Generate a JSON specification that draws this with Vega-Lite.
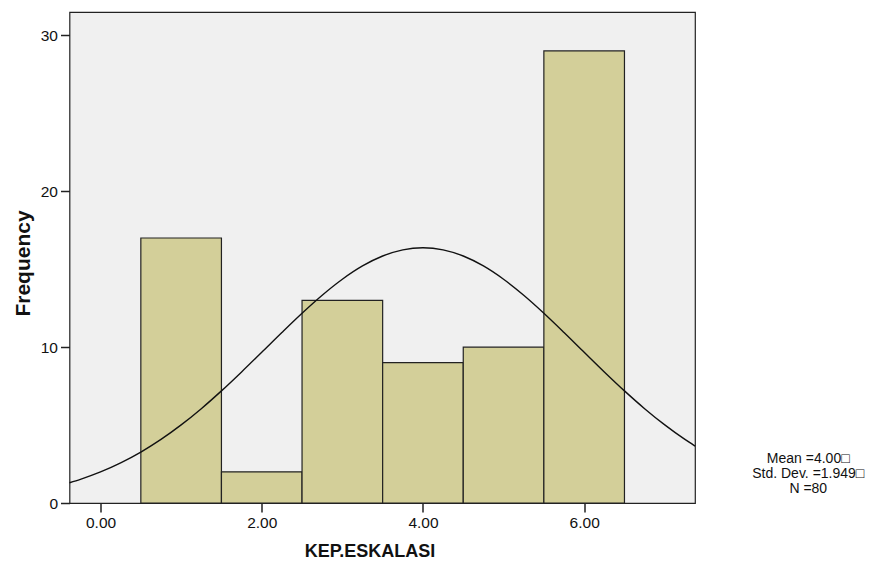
{
  "$schema": "https://vega.github.io/schema/vega-lite/v6.json",
  "width": 625.5,
  "height": 491,
  "autosize": {"type": "none"},
  "padding": {"left": 69.5, "top": 12, "right": 194, "bottom": 59},
  "background": "white",
  "config": {
    "font": "Liberation Sans",
    "view": {"fill": "#F0F0F0", "stroke": "#222222", "strokeWidth": 1.2},
    "axis": {
      "labelFont": "Liberation Sans",
      "titleFont": "Liberation Sans",
      "labelColor": "#111111",
      "titleColor": "#111111",
      "tickColor": "#222222",
      "domain": false,
      "grid": false,
      "tickWidth": 1.5
    }
  },
  "layer": [
    {
      "data": {
        "values": [
          {"bin_start": 0.5, "bin_end": 1.5, "count": 17},
          {"bin_start": 1.5, "bin_end": 2.5, "count": 2},
          {"bin_start": 2.5, "bin_end": 3.5, "count": 13},
          {"bin_start": 3.5, "bin_end": 4.5, "count": 9},
          {"bin_start": 4.5, "bin_end": 5.5, "count": 10},
          {"bin_start": 5.5, "bin_end": 6.5, "count": 29}
        ]
      },
      "mark": {"type": "rect", "fill": "#D3CF99", "stroke": "#222222", "strokeWidth": 1.2},
      "encoding": {
        "x": {
          "field": "bin_start",
          "type": "quantitative",
          "scale": {"domain": [-0.385, 7.375], "nice": false, "zero": false},
          "axis": {
            "values": [0, 2, 4, 6],
            "format": ".2f",
            "labelFontSize": 15.5,
            "tickSize": 9,
            "labelPadding": 3,
            "title": "KEP.ESKALASI",
            "titleFontSize": 18,
            "titleFontWeight": "bold",
            "titleX": 300,
            "titleY": 53,
            "titleBaseline": "alphabetic"
          }
        },
        "x2": {"field": "bin_end"},
        "y": {
          "field": "count",
          "type": "quantitative",
          "scale": {"domain": [0, 31.5], "nice": false},
          "axis": {
            "values": [0, 10, 20, 30],
            "labelFontSize": 15.5,
            "tickSize": 9,
            "labelPadding": 3,
            "title": "Frequency",
            "titleFontSize": 21,
            "titleFontWeight": "bold",
            "titleX": -40,
            "titleY": 251,
            "titleBaseline": "alphabetic"
          }
        },
        "y2": {"datum": 0}
      }
    },
    {
      "data": {
        "values": [
          {"x": -0.385, "y": 1.30},
          {"x": -0.25, "y": 1.519},
          {"x": 0.0, "y": 1.994},
          {"x": 0.25, "y": 2.573},
          {"x": 0.5, "y": 3.265},
          {"x": 0.75, "y": 4.077},
          {"x": 1.0, "y": 5.009},
          {"x": 1.25, "y": 6.051},
          {"x": 1.5, "y": 7.193},
          {"x": 1.75, "y": 8.410},
          {"x": 2.0, "y": 9.672},
          {"x": 2.25, "y": 10.942},
          {"x": 2.5, "y": 12.177},
          {"x": 2.75, "y": 13.331},
          {"x": 3.0, "y": 14.355},
          {"x": 3.25, "y": 15.207},
          {"x": 3.5, "y": 15.845},
          {"x": 3.75, "y": 16.241},
          {"x": 4.0, "y": 16.375},
          {"x": 4.25, "y": 16.241},
          {"x": 4.5, "y": 15.845},
          {"x": 4.75, "y": 15.207},
          {"x": 5.0, "y": 14.355},
          {"x": 5.25, "y": 13.331},
          {"x": 5.5, "y": 12.177},
          {"x": 5.75, "y": 10.942},
          {"x": 6.0, "y": 9.672},
          {"x": 6.25, "y": 8.410},
          {"x": 6.5, "y": 7.193},
          {"x": 6.75, "y": 6.051},
          {"x": 7.0, "y": 5.009},
          {"x": 7.25, "y": 4.077},
          {"x": 7.375, "y": 3.65}
        ]
      },
      "mark": {"type": "line", "color": "#111111", "strokeWidth": 1.4, "interpolate": "monotone"},
      "encoding": {
        "x": {"field": "x", "type": "quantitative"},
        "y": {"field": "y", "type": "quantitative"}
      }
    },
    {
      "data": {
        "values": [
          {"x": 8.78, "y": 2.85, "label": "Mean =4.00\u25a1\nStd. Dev. =1.949\u25a1\nN =80"}
        ]
      },
      "mark": {
        "type": "text",
        "align": "center",
        "baseline": "middle",
        "lineBreak": "\n",
        "lineHeight": 15,
        "fontSize": 14,
        "color": "#111111",
        "clip": false
      },
      "encoding": {
        "x": {"field": "x", "type": "quantitative"},
        "y": {"field": "y", "type": "quantitative"},
        "text": {"field": "label"}
      }
    }
  ]
}
